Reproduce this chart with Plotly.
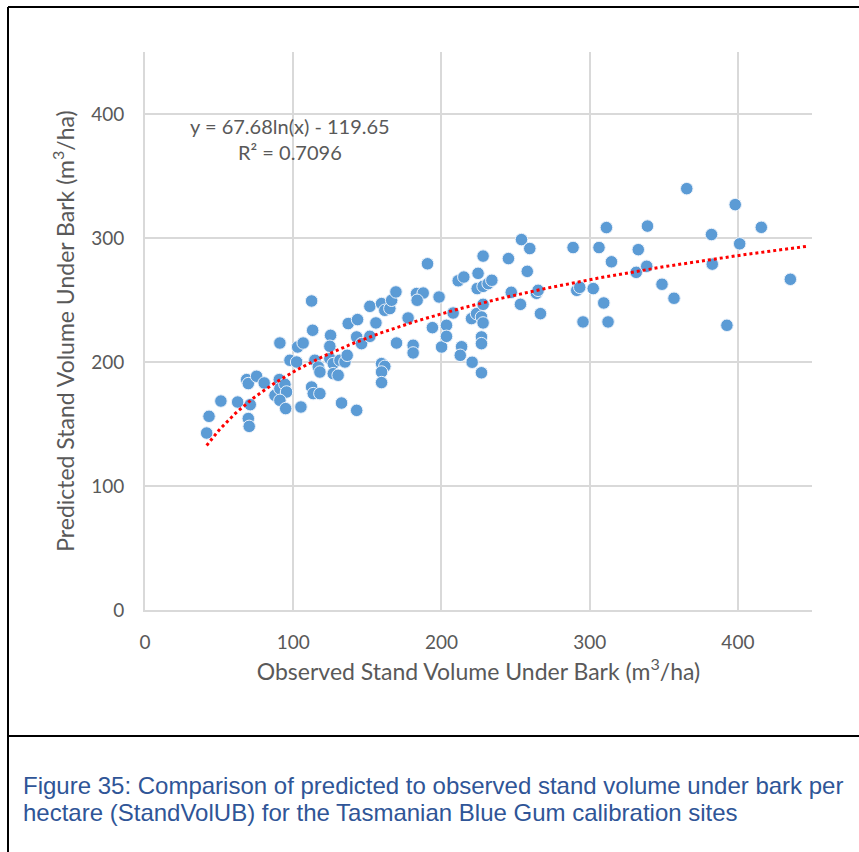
import numpy as np
import plotly.graph_objects as go

# Observed vs predicted stand volume under bark (m3/ha)
observed = [
    41.6, 43.2, 51.2, 62.5, 71.0, 69.7, 70.3, 68.6, 69.7, 75.3,
    80.4, 87.7, 90.6, 91.0, 94.4, 95.5, 91.0, 94.9, 105.2, 91.0,
    97.8, 102.3, 103.0, 106.7, 113.1, 112.4, 114.6, 116.9, 118.0, 124.7,
    127.0, 131.5, 134.9, 136.4, 127.0, 130.3, 112.4, 113.5, 118.0, 132.6,
    142.8, 125.2, 124.7, 137.1, 143.4, 142.8, 146.1, 151.7, 151.7, 155.8,
    159.6, 161.8, 165.2, 166.4, 169.3, 159.6, 161.8, 159.6, 159.6, 169.7,
    177.5, 180.9, 180.9, 183.2, 187.7, 183.6, 190.6, 193.9, 198.4, 200.1,
    203.4, 203.4, 207.9, 211.3, 215.1, 213.6, 212.7, 220.7, 227.0, 227.0,
    227.0, 220.3, 223.7, 227.0, 228.1, 228.1, 228.1, 224.7, 224.1, 228.1,
    231.5, 234.0, 245.2, 247.1, 253.3, 254.0, 259.6, 257.9, 264.1, 265.2,
    266.8, 288.8, 291.3, 293.3, 295.5, 302.4, 306.3, 311.3, 314.7, 309.5,
    312.4, 339.0, 332.8, 331.4, 338.5, 348.8, 356.9, 365.5, 382.2, 382.7,
    392.6, 398.2, 401.2, 415.8, 435.4,
]
predicted = [
    142.7, 156.2, 168.5, 167.7, 165.6, 154.4, 148.1, 185.8, 182.6, 188.5,
    183.1, 173.1, 185.8, 178.5, 182.0, 175.8, 169.1, 162.4, 163.7, 215.3,
    201.4, 200.0, 212.1, 215.3, 225.6, 249.2, 201.4, 196.0, 191.9, 202.7,
    198.7, 201.4, 200.0, 205.4, 190.6, 189.3, 179.8, 174.5, 174.5, 166.9,
    161.0, 221.5, 212.7, 231.0, 234.2, 220.2, 214.8, 220.7, 244.9, 231.5,
    247.1, 241.7, 243.1, 249.8, 256.5, 198.7, 196.5, 191.9, 183.4, 215.3,
    235.5, 213.5, 207.3, 255.2, 255.6, 249.8, 279.2, 227.7, 252.4, 212.1,
    229.6, 220.7, 239.5, 265.5, 268.5, 212.3, 205.4, 199.8, 191.3, 220.2,
    214.8, 235.0, 239.0, 236.3, 231.5, 246.5, 285.4, 271.5, 259.2, 261.0,
    263.2, 265.9, 283.4, 256.2, 246.5, 298.7, 291.5, 273.1, 255.4, 257.8,
    239.0, 292.3, 257.8, 260.2, 232.3, 259.2, 292.3, 308.4, 280.8, 247.6,
    232.3, 309.6, 290.6, 272.3, 277.2, 262.7, 251.4, 339.8, 302.8, 278.9,
    229.6, 326.9, 295.3, 308.6, 266.7,
]

# log trendline reported on the chart
trend_a, trend_b = 67.68, -119.65
trend_end = 447
axis_ticks = [0, 100, 200, 300, 400]
axis_max = 450

caption_lines = [
    "Figure 35: Comparison of predicted to observed stand volume under bark per",
    "hectare (StandVolUB) for the Tasmanian Blue Gum calibration sites",
]

FONT = "Lato, 'Noto Sans', sans-serif"
GREY_TEXT = "#595959"
GRID = "#D9D9D9"

W, H = 859, 852
L, R, T, B = 145, 47, 52, 242

trend_x = np.linspace(min(observed), trend_end, 300)
trend_y = trend_a * np.log(trend_x) + trend_b

fig = go.Figure()
fig.add_trace(go.Scatter(
    x=observed, y=predicted, mode="markers",
    marker=dict(size=12.5, color="#5B9BD5", line=dict(width=1, color="#EAF1FA")),
    hoverinfo="x+y", showlegend=False,
))
fig.add_trace(go.Scatter(
    x=trend_x, y=trend_y, mode="lines",
    line=dict(color="#FF0000", width=3, dash="dot"),
    hoverinfo="skip", showlegend=False,
))

eq_font = dict(family=FONT, size=20, color=GREY_TEXT)
fig.add_annotation(x=98, y=390, xref="x", yref="y", showarrow=False,
                   text="y = 67.68ln(x) - 119.65", font=eq_font)
fig.add_annotation(x=98, y=369, xref="x", yref="y", showarrow=False,
                   text="R² = 0.7096", font=eq_font)

# document frame around the figure (in pixels, converted to paper coords)
pw, ph = W - L - R, H - T - B


def px(xp):
    return (xp - L) / pw


def py(yp):
    return (H - B - yp) / ph


frame = dict(type="line", xref="paper", yref="paper", line=dict(color="black", width=2))
fig.add_shape(x0=px(8), x1=px(860), y0=py(7), y1=py(7), **frame)
fig.add_shape(x0=px(8), x1=px(8), y0=py(7), y1=py(853), **frame)
fig.add_shape(x0=px(8), x1=px(860), y0=py(736), y1=py(736), **frame)

for i, line in enumerate(caption_lines):
    fig.add_annotation(
        x=px(21), y=py(785 + 27 * i), xref="paper", yref="paper",
        xanchor="left", yanchor="middle", showarrow=False, text=line,
        font=dict(family="'Liberation Sans', Arial, sans-serif", size=24, color="#2F5597"),
    )

axis_common = dict(
    range=[0, axis_max], tickvals=axis_ticks, showgrid=True, gridcolor=GRID, gridwidth=2,
    showline=True, linecolor=GRID, linewidth=2, zeroline=False, ticks="",
    tickfont=dict(family=FONT, size=19, color=GREY_TEXT), fixedrange=True,
)
fig.update_xaxes(
    **axis_common, ticklabelstandoff=14,
    title=dict(text="Observed Stand Volume Under Bark (m<sup>3</sup>/ha)", standoff=12,
               font=dict(family=FONT, size=23, color=GREY_TEXT)),
)
fig.update_yaxes(
    **axis_common, ticklabelstandoff=15,
    title=dict(text="Predicted Stand Volume Under Bark (m<sup>3</sup>/ha)", standoff=10,
               font=dict(family=FONT, size=23, color=GREY_TEXT)),
)

fig.update_layout(
    width=W, height=H, margin=dict(l=L, r=R, t=T, b=B, autoexpand=False),
    paper_bgcolor="white", plot_bgcolor="white",
)

# drop the page's default body margin so the figure sits at the window origin
fig.write_html("out.html", config={"displayModeBar": False},
               post_script="document.body.style.margin = '0';")
